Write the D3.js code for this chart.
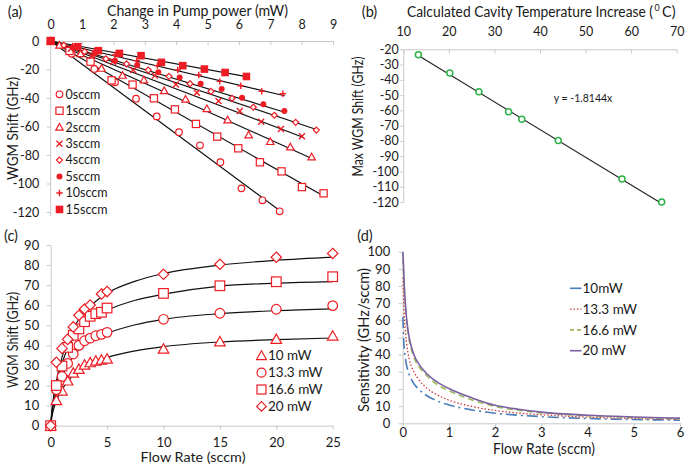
<!DOCTYPE html>
<html><head><meta charset="utf-8">
<script src="https://cdn.jsdelivr.net/npm/d3@7"></script>
<style>
body{margin:0;background:#fff}
svg{display:block}
text{font-family:Lato,"Open Sans",sans-serif;fill:#1a1a1a}
</style>
</head><body>
<svg id="chart" width="685" height="464"></svg>
<script>
// ---------------- DATA ----------------
// (a) WGM shift vs change in pump power for each flow rate
const aSeries = ["0sccm","1sccm","2sccm","3sccm","4sccm","5sccm","10sccm","15sccm"];
const aMarkers = ["circle","square","triangle","x","diamond","dot","plus","fsquare"];
const aPower = [
  [0,0.67,1.39,2.05,2.72,3.38,4.09,4.76,5.41,6.08,6.75,7.30],
  [0,0.6,1.27,1.94,2.61,3.29,3.96,4.63,5.31,5.98,6.67,7.36,8.01,8.70],
  [0,0.28,0.95,1.62,2.29,2.97,3.62,4.30,4.98,5.64,6.31,7.00,7.64,8.32],
  [0,0.64,1.31,1.99,2.63,3.32,3.99,4.66,5.35,6.03,6.71,7.34,8.01],
  [0,0.42,1.08,1.76,2.42,3.11,3.77,4.44,5.11,5.78,6.46,7.13,7.81,8.47],
  [0,0.72,1.40,2.05,2.76,3.43,4.11,4.78,5.45,6.10,6.78,7.45],
  [0,0.70,1.40,2.05,2.74,3.40,4.05,4.72,5.39,6.06,6.73,7.40],
  [0,0.86,1.52,2.19,2.88,3.53,4.21,4.90,5.56,6.24]
];
const aShift = [
  [0,-9,-19.6,-29,-40.5,-52.9,-64,-73.2,-85.1,-103.4,-111.8,-119.5],
  [0,-7,-14.5,-27.6,-30.6,-40.2,-48,-58.2,-67.1,-75.3,-85.1,-91.5,-102.5,-106.9],
  [0,-3,-9,-19.2,-24.1,-27.4,-34.9,-40.9,-47.5,-55.4,-66,-70.6,-74.4,-81.4],
  [0,-5.5,-10.5,-14.5,-20.4,-24.3,-30.6,-36.3,-42.1,-49.1,-56.6,-61.8,-66.9],
  [0,-3,-7.5,-12.5,-16.1,-20.4,-24.8,-30,-35.3,-40.2,-46.5,-52.1,-57.1,-62.5],
  [0,-4.5,-9,-13.8,-16.8,-22,-25.7,-30,-33.7,-39.8,-44.4,-49.1],
  [0,-3.5,-7,-9.8,-13.8,-17.3,-20.4,-23.9,-28.3,-31.4,-35.3,-37],
  [0,-4,-6.8,-8.7,-10.3,-15,-17.3,-19.7,-22.1,-24.9]
];
const aFitSlope = [-16.3,-12.5,-9.9,-8.4,-7.33,-6.7,-5.15,-4.0];
const aFitEnd = [7.3,8.7,8.36,8.04,8.52,7.46,7.46,6.24];
const aXTicks = [0,1,2,3,4,5,6,7,8,9];
const aYTicks = [-120,-100,-80,-60,-40,-20,0];

// (b) max WGM shift vs calculated cavity temperature increase
const bTemp = [13.3,20.2,26.6,33.1,36.0,44.0,58.0,66.7];
const bShift = [-23.5,-35.5,-47.8,-60.9,-65.8,-79.8,-104.9,-120];
const bSlope = -1.8144;
const bXTicks = [10,20,30,40,50,60,70];
const bYTicks = [-120,-110,-100,-90,-80,-70,-60,-50,-40,-30,-20];

// (c) WGM shift vs flow rate at four pump powers
const cSeries = ["10 mW","13.3 mW","16.6 mW","20 mW"];
const cMarkers = ["triangle","circle","square","diamond"];
const cFlow = [0,0.5,1,1.5,2,2.5,3,3.5,4,4.5,5,10,15,20,25];
const c10mW = [0,12.5,17.3,22.3,26.2,28.1,30.2,31.4,32.2,32.7,33.2,38.2,41.8,43,44.7];
const c13mW = [0,18,24.5,31,35.7,40,42.3,43.6,44.8,45.5,46.5,53,56,58,59.8];
const c16mW = [0,20,29.7,39,45,48.2,51.8,54.5,55.8,56.5,58.6,65.9,69.7,71.7,74.2];
const c20mW = [0,31.6,38.5,43,49.2,55,58.1,60.1,null,65.6,66.8,75.4,80.4,83.9,85.8];
const cFitFlow = [0,0.1,0.25,0.5,1,1.5,2,3,4,5,7.5,10,15,20,25];
const cFit10 = [0,4.2,8,12.3,18,22,25.2,29.2,32,34,37.3,39.4,41.7,42.9,43.7];
const cFit13 = [0,5.5,10.5,16.5,24.5,30,34.5,40,43.5,46,50.3,53,55.8,57.3,58.2];
const cFit16 = [0,6.5,13,21,31,38.5,43.5,50,54.5,57.5,62.5,65.5,69.5,71,71.8];
const cFit20 = [0,7,14,22,34,42.5,48.5,56.5,62,66,72,75.8,80,82.4,84];
const cXTicks = [0,5,10,15,20,25];
const cYTicks = [0,10,20,30,40,50,60,70,80,90];

// (d) sensitivity vs flow rate
const dSeries = ["10mW","13.3 mW","16.6 mW","20 mW"];
const dFlow = [0.005,0.02,0.035,0.06,0.09,0.14,0.2,0.25,0.35,0.5,0.75,1,1.5,2,2.5,3,4,5,6];
const d10 = [62,49,43,37.5,33,28.5,25,22.8,19.8,16.5,13,10.7,7.8,5.9,4.7,3.9,2.8,2.2,1.8];
const d13 = [85,72,62,53,45.5,37.5,32.5,29.5,25.3,21,16.5,13.5,9.8,7.5,6,5,3.6,2.8,2.3];
const d16 = [96,86,77,67,58,48.5,42,38,33,28.3,22.5,19,13.6,9.8,7.6,6.1,4.4,3.4,2.7];
const d20 = [100,90,80,69,59.5,50,43.5,39.5,34.5,29.5,24,20.3,14.8,10.5,8.2,6.5,4.7,3.7,3.0];
const dXTicks = [0,1,2,3,4,5,6];
const dYTicks = [0,10,20,30,40,50,60,70,80,90,100];

// ---------------- DRAWING ----------------
const svg = d3.select("#chart");
const RED = "#ee1c24";
const AXC = "#c8c8c8";
const GREEN = "#2eb34b";
const fmt = d => String(d);   // plain hyphen-minus like the reference

function marker(g, type, x, y, s, color) {
  color = color || RED;
  let p;
  switch (type) {
    case "circle":
      return g.append("circle").attr("cx", x).attr("cy", y).attr("r", s)
        .attr("fill", "#fff").attr("stroke", color).attr("stroke-width", 1.2);
    case "dot":
      return g.append("circle").attr("cx", x).attr("cy", y).attr("r", s)
        .attr("fill", color);
    case "square":
      return g.append("rect").attr("x", x - s).attr("y", y - s).attr("width", 2 * s).attr("height", 2 * s)
        .attr("fill", "#fff").attr("stroke", color).attr("stroke-width", 1.2);
    case "fsquare":
      return g.append("rect").attr("x", x - s).attr("y", y - s).attr("width", 2 * s).attr("height", 2 * s)
        .attr("fill", color);
    case "triangle":
      p = `M${x},${y - s * 1.1}L${x + s * 1.1},${y + s * 0.85}L${x - s * 1.1},${y + s * 0.85}Z`;
      return g.append("path").attr("d", p).attr("fill", "#fff").attr("stroke", color).attr("stroke-width", 1.2);
    case "diamond":
      p = `M${x},${y - s}L${x + s},${y}L${x},${y + s}L${x - s},${y}Z`;
      return g.append("path").attr("d", p).attr("fill", "#fff").attr("stroke", color).attr("stroke-width", 1.2);
    case "x":
      p = `M${x - s},${y - s}L${x + s},${y + s}M${x + s},${y - s}L${x - s},${y + s}`;
      return g.append("path").attr("d", p).attr("fill", "none").attr("stroke", color).attr("stroke-width", 1.4);
    case "plus":
      p = `M${x - s},${y}L${x + s},${y}M${x},${y - s}L${x},${y + s}`;
      return g.append("path").attr("d", p).attr("fill", "none").attr("stroke", color).attr("stroke-width", 1.4);
  }
}

function styleAxis(g, fs) {
  g.attr("font-family", "Lato, 'Open Sans', sans-serif").attr("font-size", fs);
  g.select(".domain").attr("stroke", AXC).attr("stroke-width", 1);
  g.selectAll(".tick line").attr("stroke", AXC);
  g.selectAll(".tick text").attr("fill", "#1a1a1a");
}

function label(x, y, str, fs, opts) {
  opts = opts || {};
  const t = svg.append("text").attr("x", x).attr("y", y).attr("dy", "0.35em")
    .attr("text-anchor", opts.anchor || "middle").attr("font-size", fs).text(str);
  if (opts.rotate) t.attr("transform", `rotate(-90,${x},${y})`);
  if (opts.width) t.attr("textLength", opts.width).attr("lengthAdjust", "spacingAndGlyphs");
  return t;
}

// ===== Panel (a) =====
const xa = d3.scaleLinear().domain([0, 9]).range([50.7, 333]);
const ya = d3.scaleLinear().domain([-120, 0]).range([212, 41]);
{
  const gx = svg.append("g").attr("transform", `translate(0,${ya(0)})`)
    .call(d3.axisTop(xa).tickValues(aXTicks).tickFormat(fmt).tickSize(-4).tickSizeOuter(0).tickPadding(12));
  styleAxis(gx, 12.5);
  const gy = svg.append("g").attr("transform", `translate(${xa(0)},0)`)
    .call(d3.axisLeft(ya).tickValues(aYTicks).tickFormat(fmt).tickSize(4).tickSizeOuter(0).tickPadding(7.5));
  styleAxis(gy, 12.5);
  gy.select(".domain").attr("d", `M0,${ya(0)}V${ya(-120) + 4}`);

  const g = svg.append("g");
  aFitSlope.forEach((m, i) => {
    g.append("line").attr("x1", xa(0)).attr("y1", ya(0))
      .attr("x2", xa(aFitEnd[i])).attr("y2", ya(m * aFitEnd[i]))
      .attr("stroke", "#111").attr("stroke-width", 1.2);
  });
  const sizes = {circle: 3.3, square: 3.6, triangle: 3.4, x: 3, diamond: 3, dot: 3, plus: 3.2, fsquare: 3.8};
  aPower.forEach((xs, i) => {
    xs.forEach((xv, j) => marker(g, aMarkers[i], xa(xv), ya(aShift[i][j]), sizes[aMarkers[i]]));
  });
  const lg = svg.append("g");
  aSeries.forEach((s, i) => {
    const y = 94.3 + i * 16.45;
    marker(lg, aMarkers[i], 59.5, y, sizes[aMarkers[i]]);
    lg.append("text").attr("x", 65.5).attr("y", y).attr("dy", "0.35em").attr("font-size", 12.5).text(s);
  });
  label(15, 12, "(a)", 14.5);
  label(197.5, 11, "Change in Pump power (mW)", 14.5, {width: 181});
  label(13, 128.5, "WGM Shift (GHz)", 14.5, {rotate: true, width: 103});
}

// ===== Panel (b) =====
const xb = d3.scaleLinear().domain([10, 70]).range([403.3, 676.7]);
const yb = d3.scaleLinear().domain([-120, -20]).range([202, 49.3]);
{
  const gx = svg.append("g").attr("transform", `translate(0,${yb(-20)})`)
    .call(d3.axisTop(xb).tickValues(bXTicks).tickFormat(fmt).tickSize(-4).tickSizeOuter(0).tickPadding(13));
  styleAxis(gx, 12.5);
  const gy = svg.append("g").attr("transform", `translate(${xb(10)},0)`)
    .call(d3.axisLeft(yb).tickValues(bYTicks).tickFormat(fmt).tickSize(3).tickSizeOuter(0).tickPadding(1.5));
  styleAxis(gy, 12.5);
  const g = svg.append("g");
  g.append("line").attr("x1", xb(bTemp[0])).attr("y1", yb(bSlope * bTemp[0]))
    .attr("x2", xb(bTemp[bTemp.length - 1])).attr("y2", yb(bSlope * bTemp[bTemp.length - 1]))
    .attr("stroke", "#222").attr("stroke-width", 1.2);
  bTemp.forEach((t, i) => {
    g.append("circle").attr("cx", xb(t)).attr("cy", yb(bShift[i])).attr("r", 3)
      .attr("fill", "#fff").attr("stroke", GREEN).attr("stroke-width", 1.5);
  });
  svg.append("text").attr("x", 583).attr("y", 98).attr("dy", "0.35em").attr("text-anchor", "middle")
    .attr("font-size", 10.5).text("y = -1.8144x");
  label(369.5, 12, "(b)", 14.5);
  // title split into pieces so the superscript does not collide
  svg.append("text").attr("x", 407).attr("y", 12).attr("dy", "0.35em").attr("font-size", 14.5)
    .attr("textLength", 246).attr("lengthAdjust", "spacingAndGlyphs")
    .text("Calculated Cavity Temperature Increase (");
  svg.append("text").attr("x", 654.5).attr("y", 7.5).attr("dy", "0.35em").attr("font-size", 9).text("0");
  svg.append("text").attr("x", 662).attr("y", 12).attr("dy", "0.35em").attr("font-size", 14.5)
    .attr("textLength", 13.5).attr("lengthAdjust", "spacingAndGlyphs").text("C)");
  label(358, 116.5, "Max WGM Shift (GHz)", 14.5, {rotate: true, width: 120});
}

// ===== Panel (c) =====
const xc = d3.scaleLinear().domain([0, 25]).range([50.7, 332.7]);
const yc = d3.scaleLinear().domain([0, 90]).range([425.7, 245]);
{
  const gx = svg.append("g").attr("transform", `translate(0,${yc(0)})`)
    .call(d3.axisBottom(xc).tickValues(cXTicks).tickFormat(fmt).tickSize(4).tickSizeOuter(0));
  styleAxis(gx, 13);
  gx.selectAll(".tick text").attr("y", 16.5).attr("dy", "0.35em");
  const gy = svg.append("g").attr("transform", `translate(${xc(0)},0)`)
    .call(d3.axisLeft(yc).tickValues(cYTicks).tickFormat(fmt).tickSize(4).tickSizeOuter(0).tickPadding(7.5));
  styleAxis(gy, 13);

  const g = svg.append("g");
  const fits = [cFit10, cFit13, cFit16, cFit20];
  const line = d3.line().x((d, i) => xc(cFitFlow[i])).y(d => yc(d)).curve(d3.curveMonotoneX);
  fits.forEach(f => {
    g.append("path").attr("d", line(f)).attr("fill", "none").attr("stroke", "#111").attr("stroke-width", 1.2);
  });
  const vals = [c10mW, c13mW, c16mW, c20mW];
  vals.forEach((arr, i) => {
    arr.forEach((v, j) => {
      if (v === null) return;
      marker(g, cMarkers[i], xc(cFlow[j]), yc(v), i === 3 ? 5.2 : 4.8);
    });
  });
  const lg = svg.append("g");
  cSeries.forEach((s, i) => {
    const y = 355.7 + i * 16.9;
    marker(lg, cMarkers[i], 261.5, y, i === 3 ? 4.8 : 4.5);
    lg.append("text").attr("x", 268).attr("y", y).attr("dy", "0.35em").attr("font-size", 13.5).text(s);
  });
  label(11, 236, "(c)", 14.5);
  label(193, 457, "Flow Rate (sccm)", 13.5, {width: 105});
  label(13, 340, "WGM Shift (GHz)", 14.5, {rotate: true, width: 96});
}

// ===== Panel (d) =====
const xd = d3.scaleLinear().domain([0, 6]).range([402.7, 680]);
const yd = d3.scaleLinear().domain([0, 100]).range([423.3, 251.7]);
{
  const gx = svg.append("g").attr("transform", `translate(0,${yd(0)})`)
    .call(d3.axisBottom(xd).tickValues(dXTicks).tickFormat(fmt).tickSize(4).tickSizeOuter(0));
  styleAxis(gx, 13);
  gx.selectAll(".tick text").attr("y", 9.5).attr("dy", "0.35em");
  const gy = svg.append("g").attr("transform", `translate(${xd(0)},0)`)
    .call(d3.axisLeft(yd).tickValues(dYTicks).tickFormat(fmt).tickSize(4).tickSizeOuter(0).tickPadding(8.5));
  styleAxis(gy, 13);

  const styles = [
    {c: "#4a7ebb", w: 1.6, dash: "11,4,2,4"},
    {c: "#d0363a", w: 1.3, dash: "1.5,2"},
    {c: "#9bbb59", w: 1.6, dash: "6,4"},
    {c: "#7a5fa3", w: 1.6, dash: null}
  ];
  const vals = [d10, d13, d16, d20];
  const line = d3.line().x((d, i) => xd(dFlow[i])).y(d => yd(d)).curve(d3.curveMonotoneX);
  const g = svg.append("g");
  vals.forEach((arr, i) => {
    const p = g.append("path").attr("d", line(arr)).attr("fill", "none")
      .attr("stroke", styles[i].c).attr("stroke-width", styles[i].w);
    if (styles[i].dash) p.attr("stroke-dasharray", styles[i].dash);
  });
  const lg = svg.append("g");
  dSeries.forEach((s, i) => {
    const y = 288.3 + i * 20.8;
    const l = lg.append("line").attr("x1", 570).attr("x2", 581.5).attr("y1", y).attr("y2", y)
      .attr("stroke", styles[i].c).attr("stroke-width", styles[i].w);
    if (i === 1) l.attr("stroke-dasharray", "1.5,2");
    if (i === 2) l.attr("stroke-dasharray", "4,3");
    lg.append("text").attr("x", 582.5).attr("y", y).attr("dy", "0.35em").attr("font-size", 13.5).text(s);
  });
  label(365, 236, "(d)", 14.5);
  label(544, 449, "Flow Rate (sccm)", 14.5, {width: 102});
  label(364, 340, "Sensitivity (GHz/sccm)", 14.5, {rotate: true, width: 144});
}
</script>
</body></html>
